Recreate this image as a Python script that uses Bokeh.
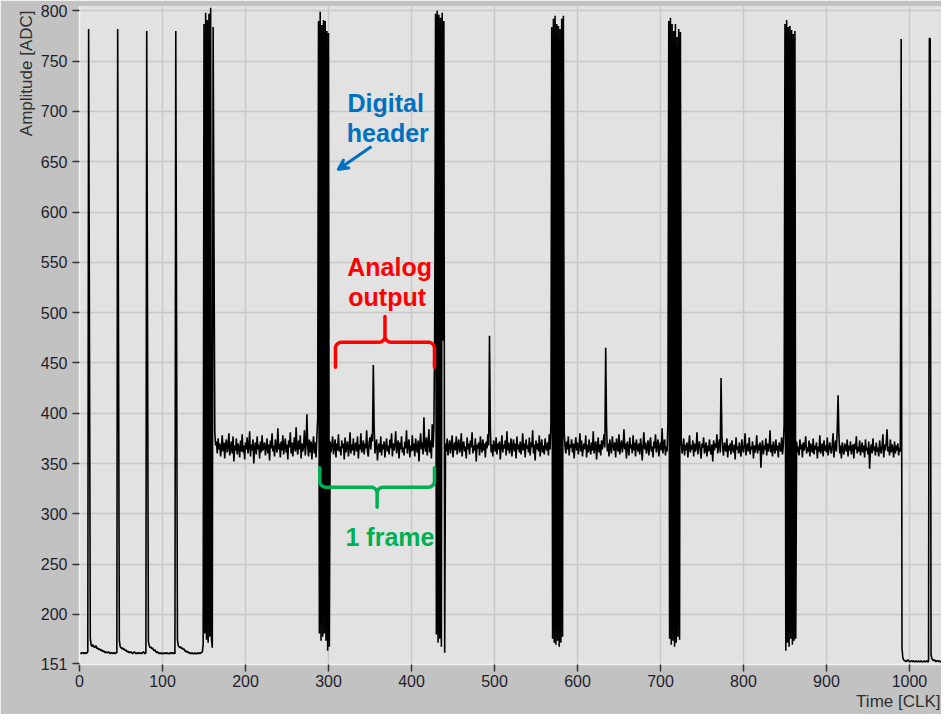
import numpy as np
from bokeh.plotting import figure
from bokeh.models import FixedTicker, Label, Arrow, VeeHead, Title
from bokeh.embed import file_html
from bokeh.resources import INLINE

# ---------------- data (Amplitude [ADC] per clock sample) ----------------
# x = 0..149 : baseline before readout with four single-clock pulses
pre_readout = [
    161, 162, 161, 162, 162, 161, 162, 162, 161, 162, 163,
    782, 477,
    176, 170, 168, 170, 169, 167, 168, 169, 166, 167, 165, 166, 165, 164, 165, 163, 164,
    163, 162, 163, 162, 162, 163, 162, 161, 162, 162, 161, 162, 162, 161, 162, 162,
    782, 477,
    174, 168, 167, 166, 167, 165, 166, 164, 165, 163, 164, 162, 163, 162, 163, 162, 161,
    162, 163, 162, 161, 162, 161, 162, 162, 161, 162, 161, 162, 163, 162, 161, 162,
    780, 477,
    173, 169, 167, 168, 166, 167, 165, 164, 165, 163, 162, 163, 162, 161, 162, 161, 162,
    161, 161, 162, 161, 162, 161, 162, 161, 161, 162, 161, 162, 162, 161, 162, 161,
    780, 477,
    175, 169, 168, 167, 168, 166, 167, 165, 166, 164, 163, 164, 162, 163, 162, 161, 162,
    161, 162, 161, 161, 162, 161, 161, 162, 161, 162, 161, 162, 162, 163, 170,
]
header_1 = [787, 181, 798, 175, 791, 172, 797, 178, 803, 176, 167, 784, 577]
frame_1 = [
    381, 368, 372, 360, 375, 364, 370, 357, 366, 378,
    362, 371, 355, 369, 374, 361, 367, 380, 358, 365,
    372, 360, 377, 352, 368, 363, 375, 359, 370, 366,
    356, 373, 362, 379, 361, 368, 354, 371, 364, 376,
    360, 367, 382, 357, 369, 363, 374, 350, 366, 371,
    359, 377, 364, 369, 355, 372, 361, 378, 363, 367,
    371, 358, 366, 375, 360, 369, 353, 373, 365, 380,
    362, 368, 357, 374, 366, 361, 385, 364, 370, 356,
    372, 363, 378, 359, 367, 375, 361, 369, 354, 373,
    366, 381, 360, 371, 357, 368, 376, 362, 386, 365,
    359, 373, 364, 378, 355, 370, 362, 367, 383, 358,
    369, 399, 366, 357, 374, 361, 372, 354, 368, 377,
    360, 371, 356, 376, 395,
]
header_2 = [790, 181, 799, 174, 786, 178, 791, 181, 790, 174, 780, 164, 778, 168]
frame_2 = [
    372, 361, 368, 377, 359, 366, 374, 356, 370, 363,
    379, 362, 367, 358, 373, 365, 370, 354, 376, 361,
    368, 372, 357, 366, 381, 360, 369, 363, 375, 358,
    367, 371, 362, 377, 355, 369, 364, 380, 361, 366,
    373, 359, 370, 365, 383, 362, 357, 371, 376, 364,
    379, 372, 448, 386, 360, 368, 374, 353, 366, 370,
    361, 377, 358, 369, 364, 372, 356, 367, 375, 362,
    368, 359, 374, 365, 380, 357, 370, 363, 369, 382,
    360, 367, 373, 355, 371, 364, 377, 361, 366, 358,
    372, 365, 383, 360, 369, 374, 356, 368, 362, 378,
    363, 370, 357, 375, 366, 361, 373, 352, 369, 380,
    364, 371, 359, 396, 367, 362, 376, 358, 370, 384,
    361, 373, 355, 389, 366, 386,
]
header_3 = [487, 797, 180, 800, 172, 796, 176, 793, 168, 798, 472, 790, 162]
frame_3 = [
    370, 362, 375, 358, 367, 373, 360, 369, 378, 356,
    366, 371, 363, 377, 359, 368, 374, 361, 365, 380,
    357, 369, 372, 362, 367, 355, 376, 364, 370, 359,
    373, 366, 381, 360, 368, 363, 375, 352, 369, 365,
    371, 358, 377, 366, 361, 374, 363, 370, 356, 372,
    365, 379, 368, 477, 384, 361, 369, 357, 373, 366,
    362, 376, 359, 370, 364, 372, 354, 367, 378, 361,
    369, 365, 373, 358, 382, 363, 371, 360, 366, 375,
    357, 368, 374, 362, 370, 355, 377, 364, 369, 361,
    372, 359, 366, 380, 363, 370, 356, 374, 365, 368,
    361, 376, 358, 371, 366, 383, 360, 369, 353, 373,
    364, 370, 362, 378, 357, 367, 374, 361, 368, 359,
    375, 366, 363, 371, 358, 379, 364, 390,
]
header_4 = [784, 176, 792, 172, 795, 170, 787, 174, 785, 168, 782, 172, 792, 178, 795]
frame_4 = [
    381, 367, 360, 372, 364, 377, 358, 369, 366, 374,
    361, 370, 355, 368, 376, 363, 371, 359, 367, 380,
    362, 373, 357, 366, 370, 364, 378, 356, 369, 361,
    374, 365, 359, 371, 363, 382, 360, 368, 372, 354,
    367, 376, 361, 369, 358, 373, 364, 371, 379, 366,
    465, 388, 362, 370, 357, 374, 365, 360, 377, 368,
    363, 371, 356, 375, 366, 362, 379, 359, 368, 373,
    361, 367, 384, 364, 370, 355, 372, 366, 358, 376,
    365, 369, 360, 378, 363, 371, 357, 374, 366, 362,
    370, 359, 375, 367, 353, 368, 381, 364, 371, 360,
    366, 373, 358, 369, 376, 362, 367, 356, 372, 365,
    379, 361, 368, 374, 357, 366, 371, 363, 385, 360,
    369, 374, 358, 367, 362, 391,
]
header_5 = [790, 176, 793, 170, 787, 174, 780, 168, 787, 172, 774, 178, 782, 175, 779]
frame_5 = [
    372, 360, 366, 375, 358, 369, 363, 371, 356, 367,
    378, 361, 368, 364, 373, 357, 370, 362, 366, 381,
    359, 368, 372, 363, 355, 370, 366, 376, 360, 365,
    371, 357, 368, 362, 374, 364, 359, 369, 352, 373,
    363, 370, 366, 379, 360, 368, 374, 361, 435, 377,
    364, 358, 371, 366, 362, 375, 356, 368, 363, 370,
    359, 373, 365, 361, 369, 354, 376, 364, 367, 360,
    371, 363, 357, 374, 366, 361, 369, 380, 358, 365,
    370, 362, 376, 359, 367, 364, 372, 355, 368, 361,
    366, 378, 360, 369, 363, 371, 346, 366, 373, 359,
    368, 364, 375, 358, 370, 362, 366, 383, 361, 369,
    357, 372, 365, 360, 374, 363, 368, 356, 371, 366,
    362, 376, 359, 368, 389,
]
header_6 = [787, 164, 791, 172, 784, 168, 785, 176, 781, 170, 777, 174, 780, 176]
frame_6 = [
    372, 361, 367, 358, 374, 364, 369, 356, 371, 363,
    368, 377, 360, 366, 362, 373, 357, 370, 365, 361,
    375, 359, 368, 364, 371, 355, 367, 362, 378, 360,
    366, 370, 357, 373, 363, 368, 361, 376, 358, 365,
    371, 364, 360, 369, 380, 356, 367, 373, 362, 384,
    418, 378, 360, 368, 355, 371, 364, 359, 370, 366,
    362, 374, 357, 368, 363, 372, 359, 366, 369, 355,
    370, 364, 377, 360, 367, 362, 373, 358, 365, 371,
    361, 368, 356, 374, 363, 366, 359, 372, 345, 364,
    369, 360, 375, 363, 367, 358, 371, 362, 366, 357,
    373, 364, 360, 368, 379, 356, 369, 363, 371, 384,
    362, 367, 358, 374, 361, 369, 364, 356, 372, 360,
    368, 363, 370, 358, 366, 362,
]
tail = [
    772, 167, 157,
    155, 154, 154, 153, 154, 155, 154, 153, 153, 154, 154, 153, 154, 153, 153, 154,
    153, 153, 154, 153, 153, 154, 153, 153, 153, 154, 153, 153, 154, 153, 153,
    773, 772, 160,
    156, 155, 154, 155, 154, 153, 154, 154, 153, 154, 153, 153, 154, 153, 153, 154,
    153, 153, 153, 154, 153, 153,
]

amplitude = (pre_readout + header_1 + frame_1 + header_2 + frame_2 + header_3 + frame_3
             + header_4 + frame_4 + header_5 + frame_5 + header_6 + frame_6 + tail)
time_clk = list(range(len(amplitude)))

x_ticks = [0, 100, 200, 300, 400, 500, 600, 700, 800, 900, 1000]
y_ticks = [151, 200, 250, 300, 350, 400, 450, 500, 550, 600, 650, 700, 750, 800]
y_grid = [200, 250, 300, 350, 400, 450, 500, 550, 600, 650, 700, 750, 800]

# ---------------- figure ----------------
X0, X1 = 0, 1038.6
Y0, Y1 = 150.3, 804.3
W, H = 941, 714
ML, MT, MB = 79, 6, 50
SX = (W - ML) / (X1 - X0)
SY = (H - MT - MB) / (Y1 - Y0)

p = figure(width=W, height=H, x_range=(X0, X1), y_range=(Y0, Y1),
           output_backend="svg", toolbar_location=None,
           min_border_left=ML, min_border_right=0, min_border_top=MT, min_border_bottom=MB)
p.background_fill_color = "#e2e2e2"
p.border_fill_color = "#c2c2c2"
p.outline_line_color = None

for ax, ticks in ((p.xaxis[0], x_ticks), (p.yaxis[0], y_ticks)):
    ax.ticker = FixedTicker(ticks=ticks)
    ax.minor_tick_line_color = None
    ax.major_tick_in = 0
    ax.major_tick_out = 7
    ax.major_tick_line_color = "#303030"
    ax.major_tick_line_width = 1.5
    ax.axis_line_color = "#f4f4f4"
    ax.axis_line_width = 1.5
    ax.major_label_text_font = "Liberation Sans"
    ax.major_label_text_font_size = "16px"
    ax.major_label_text_color = "#1e1e2c"
p.xaxis[0].major_label_standoff = 3
p.yaxis[0].major_label_standoff = 5

p.xgrid[0].ticker = FixedTicker(ticks=x_ticks)
p.ygrid[0].ticker = FixedTicker(ticks=y_grid)
for g in (p.xgrid[0], p.ygrid[0]):
    g.grid_line_color = "#c8c8c8"
    g.grid_line_width = 1.5

p.line(time_clk, amplitude, line_color="black", line_width=1.6)

# axis titles, placed at the top / right ends as in the original
p.add_layout(Title(text="Amplitude [ADC]", align="right", text_font="Liberation Sans",
                   text_font_size="17px", text_font_style="normal", text_color="#303030",
                   standoff=3, offset=4), "left")
p.add_layout(Title(text="Time [CLK]", align="right", text_font="Liberation Sans",
                   text_font_size="17px", text_font_style="normal", text_color="#303030",
                   standoff=0, offset=1), "below")

# ---------------- annotations ----------------
BLUE, RED, GREEN = "#0070c0", "#ff0000", "#00b050"


def note(x, y, text, color):
    p.add_layout(Label(x=x, y=y, text=text, text_align="center", text_baseline="alphabetic",
                       text_font="Liberation Sans", text_font_style="bold",
                       text_font_size="25px", text_color=color))


note(369.0, 708.2, "Digital", BLUE)
note(371.5, 678.3, "header", BLUE)
note(373.7, 545.2, "Analog", RED)
note(370.7, 515.4, "output", RED)
note(374.1, 276.8, "1 frame", GREEN)

p.add_layout(Arrow(end=VeeHead(size=11, line_color=BLUE, fill_color=BLUE, line_width=2.5),
                   x_start=351.8, y_start=665.1, x_end=311.2, y_end=642.0,
                   line_color=BLUE, line_width=3))


def brace(xl, xr, yh, tip, cusp, r=6.0):
    rx, ry = r / SX, r / SY
    st, sc = np.sign(tip), np.sign(cusp)
    xm = (xl + xr) / 2
    t = np.linspace(0, np.pi / 2, 9)
    xs = [xl]
    ys = [yh + tip]
    cx, cy = xl + rx, yh + st * ry
    xs += list(cx - rx * np.cos(t))
    ys += list(cy - st * ry * np.sin(t))
    cx, cy = xm - rx, yh + sc * ry
    xs += list(cx + rx * np.sin(t))
    ys += list(cy - sc * ry * np.cos(t))
    xs.append(xm)
    ys.append(yh + cusp)
    right_x = [xl + xr - v for v in xs[::-1][1:]]
    right_y = ys[::-1][1:]
    return xs + right_x, ys + right_y


bx, by = brace(308.4, 427.7, 470.6, -24.8, 25.6)
p.line(bx, by, line_color=RED, line_width=3.5, line_join="round", line_cap="round")
gx, gy = brace(289.5, 427.7, 326.5, 19.3, -19.9)
p.line(gx, gy, line_color=GREEN, line_width=3.5, line_join="round", line_cap="round")

open("out.html", "w").write(file_html(p, INLINE))
